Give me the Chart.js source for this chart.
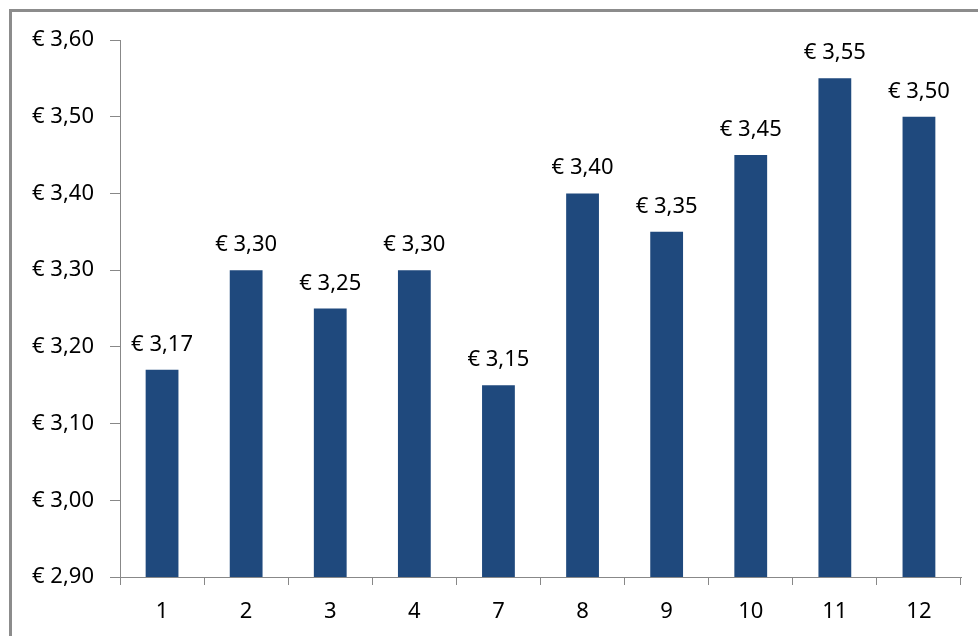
<!DOCTYPE html>
<html>
<head>
<meta charset="UTF-8">
<title>Prijs per week</title>
<script src="https://cdn.jsdelivr.net/npm/chart.js"></script>
<style>
  html, body { margin: 0; padding: 0; background: #fff; overflow: hidden; }
  #frame { position: absolute; left: 9px; top: 9px; width: 2000px; height: 2000px;
           border-left: 3px solid #8c8c8c; border-top: 3px solid #8c8c8c; }
  #wrap { position: absolute; left: 0; top: 0; width: 978px; height: 636px; }
</style>
</head>
<body>
<div id="frame"></div>
<div id="wrap"><canvas id="chart"></canvas></div>
<script>
const categories = ['1', '2', '3', '4', '7', '8', '9', '10', '11', '12'];
const prices = [3.17, 3.30, 3.25, 3.30, 3.15, 3.40, 3.35, 3.45, 3.55, 3.50];

const euro = v => '€ ' + v.toFixed(2).replace('.', ',');
const FONT = "'Noto Sans', 'Open Sans', sans-serif";

const valueLabels = {
  id: 'valueLabels',
  afterDatasetsDraw(chart) {
    const ctx = chart.ctx;
    const meta = chart.getDatasetMeta(0);
    ctx.save();
    ctx.font = '22px ' + FONT;
    ctx.fillStyle = '#000';
    ctx.textAlign = 'center';
    ctx.textBaseline = 'alphabetic';
    meta.data.forEach((bar, i) => {
      ctx.fillText(euro(prices[i]), bar.x, bar.y - 19);
    });
    ctx.restore();
  }
};

new Chart(document.getElementById('chart'), {
  type: 'bar',
  data: {
    labels: categories,
    datasets: [{
      data: prices,
      backgroundColor: '#1f497d',
      borderWidth: 0,
      barPercentage: 0.39,
      categoryPercentage: 1
    }]
  },
  options: {
    responsive: true,
    maintainAspectRatio: false,
    animation: false,
    layout: { padding: { top: 40, right: 17, left: 0, bottom: 0 } },
    plugins: { legend: { display: false }, tooltip: { enabled: false } },
    scales: {
      x: {
        grid: { drawOnChartArea: false, drawTicks: true, tickLength: 8, color: '#888', offset: true },
        border: { color: '#888', width: 1 },
        ticks: { color: '#000', font: { family: FONT, size: 22 }, padding: 14 },
        afterFit(scale) { scale.height = 59; }
      },
      y: {
        min: 2.9,
        max: 3.6,
        grid: { drawOnChartArea: false, drawTicks: true, tickLength: 10, color: '#888' },
        border: { color: '#888', width: 1 },
        ticks: { stepSize: 0.1, color: '#000', font: { family: FONT, size: 22 }, padding: 16,
                 callback: v => euro(v) },
        afterFit(scale) { scale.width = 120; }
      }
    }
  },
  plugins: [valueLabels]
});
</script>
</body>
</html>
